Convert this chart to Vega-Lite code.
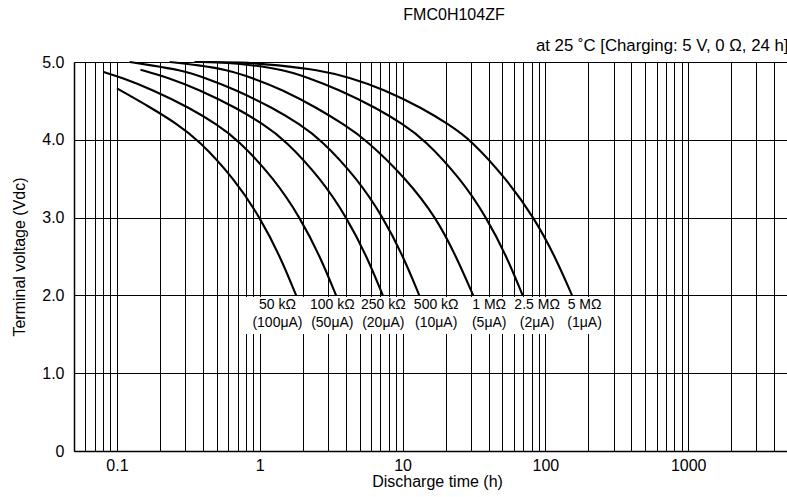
{
  "$schema": "https://vega.github.io/schema/vega-lite/v6.json",
  "width": 714,
  "height": 389,
  "autosize": {"type": "none"},
  "padding": {"left": 74, "top": 62, "right": 0, "bottom": 46},
  "background": "white",
  "config": {
    "font": "Liberation Sans",
    "view": {"stroke": null},
    "axis": {"labelColor": "black", "titleColor": "black", "titleFontWeight": "normal"}
  },
  "title": {"text": "FMC0H104ZF", "fontSize": 16, "fontWeight": "normal", "color": "black", "anchor": "middle", "dx": 23, "offset": 14},
  "datasets": {
    "curves": [
      {"s": "50k", "t": 0.1, "v": 4.66}, {"s": "50k", "t": 0.174, "v": 4.41}, {"s": "50k", "t": 0.26, "v": 4.21}, {"s": "50k", "t": 0.371, "v": 4.0}, {"s": "50k", "t": 0.662, "v": 3.5}, {"s": "50k", "t": 1.006, "v": 3.0}, {"s": "50k", "t": 1.389, "v": 2.5}, {"s": "50k", "t": 1.797, "v": 2.0},
      {"s": "100k", "t": 0.0807, "v": 4.87}, {"s": "100k", "t": 0.1073, "v": 4.8}, {"s": "100k", "t": 0.174, "v": 4.65}, {"s": "100k", "t": 0.3314, "v": 4.4}, {"s": "100k", "t": 0.4955, "v": 4.2}, {"s": "100k", "t": 0.706, "v": 4.0}, {"s": "100k", "t": 1.261, "v": 3.5}, {"s": "100k", "t": 1.917, "v": 3.0}, {"s": "100k", "t": 2.645, "v": 2.5}, {"s": "100k", "t": 3.422, "v": 2.0},
      {"s": "250k", "t": 0.146, "v": 4.9}, {"s": "250k", "t": 0.228, "v": 4.8}, {"s": "250k", "t": 0.3697, "v": 4.65}, {"s": "250k", "t": 0.704, "v": 4.4}, {"s": "250k", "t": 1.053, "v": 4.2}, {"s": "250k", "t": 1.501, "v": 4.0}, {"s": "250k", "t": 2.679, "v": 3.5}, {"s": "250k", "t": 4.07, "v": 3.0}, {"s": "250k", "t": 5.62, "v": 2.5}, {"s": "250k", "t": 7.27, "v": 2.0},
      {"s": "500k", "t": 0.1227, "v": 5.0}, {"s": "500k", "t": 0.1693, "v": 4.96}, {"s": "500k", "t": 0.2745, "v": 4.9}, {"s": "500k", "t": 0.4106, "v": 4.8}, {"s": "500k", "t": 0.665, "v": 4.65}, {"s": "500k", "t": 1.267, "v": 4.4}, {"s": "500k", "t": 1.895, "v": 4.2}, {"s": "500k", "t": 2.7, "v": 4.0}, {"s": "500k", "t": 4.82, "v": 3.5}, {"s": "500k", "t": 7.33, "v": 3.0}, {"s": "500k", "t": 10.11, "v": 2.5}, {"s": "500k", "t": 13.09, "v": 2.0},
      {"s": "1M", "t": 0.234, "v": 5.0}, {"s": "1M", "t": 0.3726, "v": 4.96}, {"s": "1M", "t": 0.585, "v": 4.9}, {"s": "1M", "t": 0.875, "v": 4.8}, {"s": "1M", "t": 1.418, "v": 4.65}, {"s": "1M", "t": 2.573, "v": 4.4}, {"s": "1M", "t": 3.848, "v": 4.2}, {"s": "1M", "t": 5.575, "v": 4.0}, {"s": "1M", "t": 10.61, "v": 3.5}, {"s": "1M", "t": 17.21, "v": 3.0}, {"s": "1M", "t": 23.74, "v": 2.5}, {"s": "1M", "t": 31.22, "v": 2.0},
      {"s": "2.5M", "t": 0.35, "v": 5.0}, {"s": "2.5M", "t": 0.553, "v": 4.995}, {"s": "2.5M", "t": 0.896, "v": 4.96}, {"s": "2.5M", "t": 1.453, "v": 4.9}, {"s": "2.5M", "t": 2.174, "v": 4.8}, {"s": "2.5M", "t": 3.523, "v": 4.65}, {"s": "2.5M", "t": 6.71, "v": 4.4}, {"s": "2.5M", "t": 10.03, "v": 4.2}, {"s": "2.5M", "t": 14.3, "v": 4.0}, {"s": "2.5M", "t": 25.5, "v": 3.5}, {"s": "2.5M", "t": 38.8, "v": 3.0}, {"s": "2.5M", "t": 53.56, "v": 2.5}, {"s": "2.5M", "t": 69.3, "v": 2.0},
      {"s": "5M", "t": 0.35, "v": 5.0}, {"s": "5M", "t": 0.757, "v": 4.998}, {"s": "5M", "t": 1.33, "v": 4.96}, {"s": "5M", "t": 2.533, "v": 4.9}, {"s": "5M", "t": 4.31, "v": 4.8}, {"s": "5M", "t": 7.33, "v": 4.65}, {"s": "5M", "t": 13.95, "v": 4.4}, {"s": "5M", "t": 20.87, "v": 4.2}, {"s": "5M", "t": 30.08, "v": 4.0}, {"s": "5M", "t": 53.1, "v": 3.5}, {"s": "5M", "t": 83.4, "v": 3.0}, {"s": "5M", "t": 116.9, "v": 2.5}, {"s": "5M", "t": 153.7, "v": 2.0}
    ],
    "labels": [
      {"t": 1.33, "l1": "50 kΩ", "l2": "(100μA)"},
      {"t": 3.22, "l1": "100 kΩ", "l2": "(50μA)"},
      {"t": 7.33, "l1": "250 kΩ", "l2": "(20μA)"},
      {"t": 17.2, "l1": "500 kΩ", "l2": "(10μA)"},
      {"t": 40.4, "l1": "1 MΩ", "l2": "(5μA)"},
      {"t": 87.5, "l1": "2.5 MΩ", "l2": "(2μA)"},
      {"t": 188, "l1": "5 MΩ", "l2": "(1μA)"}
    ]
  },
  "resolve": {"axis": {"x": "independent", "y": "independent"}},
  "layer": [
    {
      "data": {"name": "curves"},
      "mark": {"type": "line", "color": "black", "strokeWidth": 2.1, "interpolate": "basis"},
      "encoding": {
        "x": {
          "field": "t", "type": "quantitative",
          "scale": {"type": "log", "domain": [0.05, 5000], "nice": false},
          "axis": {
            "orient": "bottom",
            "values": [0.05, 0.06, 0.07, 0.08, 0.09, 0.1, 0.2, 0.3, 0.4, 0.5, 0.6, 0.7, 0.8, 0.9, 1, 2, 3, 4, 5, 6, 7, 8, 9, 10, 20, 30, 40, 50, 60, 70, 80, 90, 100, 200, 300, 400, 500, 600, 700, 800, 900, 1000, 2000, 3000, 4000, 5000],
            "grid": true, "gridColor": "black", "gridWidth": 1, "gridOpacity": 1,
            "ticks": false, "domain": true, "domainColor": "black", "domainWidth": 1.5,
            "labelExpr": "datum.value == 0.1 ? '0.1' : datum.value == 1 ? '1' : datum.value == 10 ? '10' : datum.value == 100 ? '100' : datum.value == 1000 ? '1000' : ''",
            "labelOverlap": false, "labelFlush": false, "labelFontSize": 16, "labelPadding": 6,
            "title": "Discharge time (h)", "titleFontSize": 16, "titlePadding": 0, "titleX": 363
          }
        },
        "y": {
          "field": "v", "type": "quantitative",
          "scale": {"domain": [0, 5], "nice": false},
          "axis": {
            "values": [0, 1, 2, 3, 4, 5],
            "grid": true, "gridColor": "black", "gridWidth": 1, "gridOpacity": 1,
            "ticks": false, "domain": true, "domainColor": "black", "domainWidth": 1.5,
            "labelExpr": "datum.value == 0 ? '0' : format(datum.value, '.1f')",
            "labelFontSize": 16, "labelPadding": 10,
            "title": "Terminal voltage (Vdc)", "titleFontSize": 16, "titlePadding": 14
          }
        },
        "detail": {"field": "s"}
      }
    },
    {
      "data": {"values": [{}]},
      "mark": {"type": "rect", "color": "white"},
      "encoding": {
        "x": {"datum": 0.75, "type": "quantitative", "scale": {"type": "log", "domain": [0.05, 5000], "nice": false},
          "axis": {"orient": "top", "grid": false, "ticks": false, "labels": false, "domain": false,
            "title": "at 25 ˚C [Charging: 5 V, 0 Ω, 24 h]", "titleAnchor": "end", "titleFontSize": 16.8, "titlePadding": 8}},
        "x2": {"datum": 270},
        "y": {"datum": 1.505, "type": "quantitative", "scale": {"domain": [0, 5], "nice": false}, "axis": null},
        "y2": {"datum": 1.98}
      }
    },
    {
      "data": {"name": "labels"},
      "mark": {"type": "text", "fontSize": 14, "color": "black", "align": "center", "baseline": "middle"},
      "encoding": {
        "x": {"field": "t", "type": "quantitative", "scale": {"type": "log", "domain": [0.05, 5000], "nice": false}, "axis": null},
        "y": {"datum": 1.88, "type": "quantitative", "scale": {"domain": [0, 5], "nice": false}, "axis": null},
        "text": {"field": "l1"}
      }
    },
    {
      "data": {"name": "labels"},
      "mark": {"type": "text", "fontSize": 14, "color": "black", "align": "center", "baseline": "middle"},
      "encoding": {
        "x": {"field": "t", "type": "quantitative", "scale": {"type": "log", "domain": [0.05, 5000], "nice": false}, "axis": null},
        "y": {"datum": 1.65, "type": "quantitative", "scale": {"domain": [0, 5], "nice": false}, "axis": null},
        "text": {"field": "l2"}
      }
    }
  ]
}
